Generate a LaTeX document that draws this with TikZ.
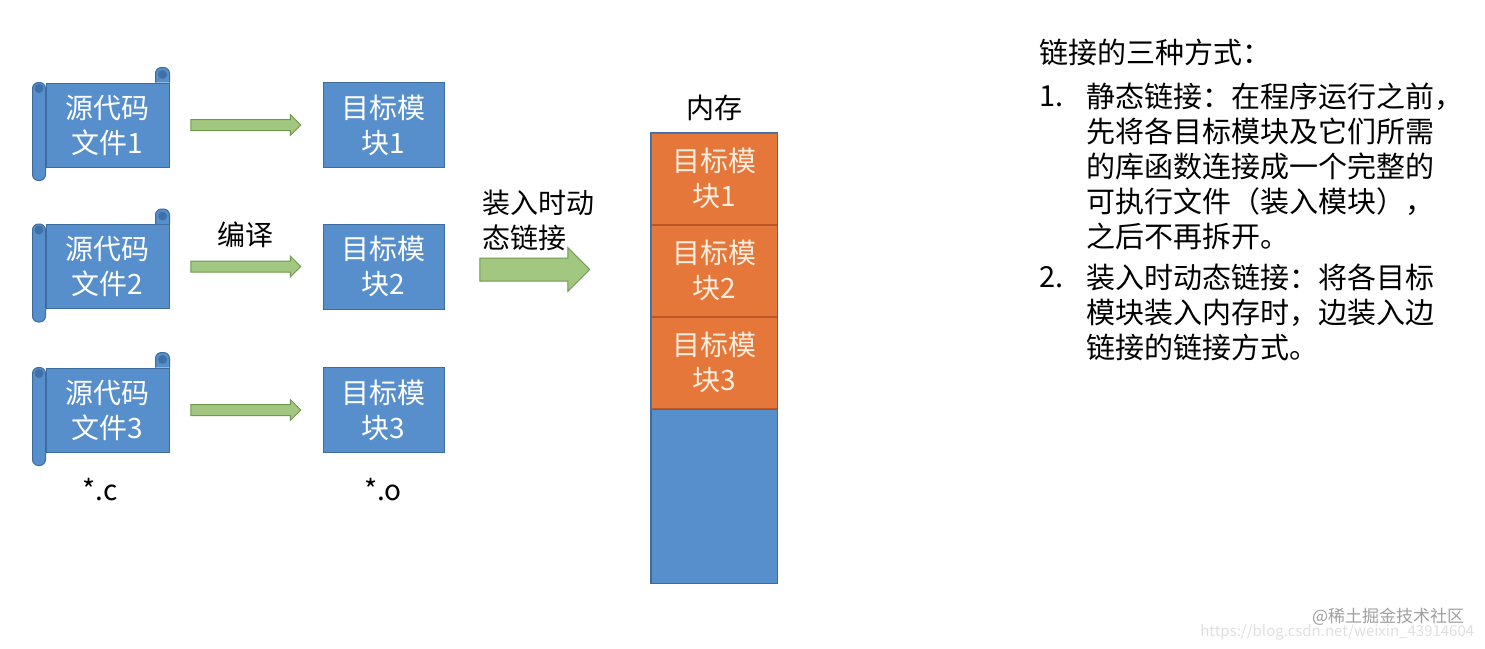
\documentclass[tikz,border=0pt]{standalone}
\usepackage{fontspec}
\setmainfont{Noto Sans CJK SC}
\usetikzlibrary{positioning,shapes.arrows,calc}

\definecolor{blockblue}{RGB}{87,143,204}
\definecolor{edgeblue}{RGB}{62,108,156}
\definecolor{curlblue}{RGB}{64,112,168}
\definecolor{slotorange}{RGB}{229,119,58}
\definecolor{edgeorange}{RGB}{188,86,38}
\definecolor{slottext}{RGB}{252,238,222}
\definecolor{lightgreen}{RGB}{162,199,128}
\definecolor{arrowgreen}{RGB}{112,152,78}

\begin{document}
\begin{tikzpicture}[x=1pt, y=-1pt, line width=1pt,
  font=\fontsize{28}{35}\selectfont,
  srcfile/.style={draw=edgeblue, fill=blockblue, text=white, align=center,
    minimum width=123pt, minimum height=84pt, inner sep=0pt},
  scrollroll/.style={draw=edgeblue, fill=blockblue, rounded corners=6pt},
  module/.style={draw=edgeblue, fill=blockblue, text=white, align=center,
    minimum width=121pt, minimum height=85pt, inner sep=0pt},
  memslot/.style={draw=edgeorange, fill=slotorange, text=slottext, align=center,
    minimum width=126pt, minimum height=91pt, inner sep=0pt},
  smallarrow/.style={single arrow, draw=arrowgreen, fill=lightgreen,
    inner xsep=0pt, inner ysep=5pt, single arrow head extend=5pt, minimum height=110pt},
  bigarrow/.style={single arrow, draw=arrowgreen, fill=lightgreen,
    inner xsep=0pt, inner ysep=11pt, single arrow head extend=10.5pt, minimum height=110pt}]
  \useasboundingbox (0,0) rectangle (1485,648);

  % source files, compile arrows, object modules
  \foreach \i/\y in {1/125, 2/266.5, 3/410}{
    \node[srcfile] (src\i) at (107.5,\y) {源代码\\文件\i};
    \draw[scrollroll] ([xshift=-13pt]src\i.north west) rectangle ([yshift=-13pt]src\i.south west);
    \draw[scrollroll] ([xshift=-14pt]src\i.north east) -- ([xshift=-14pt,yshift=15pt]src\i.north east)
      -- ([yshift=15pt]src\i.north east) -- (src\i.north east);
    \fill[curlblue] ([xshift=-6.5pt,yshift=-6pt]src\i.north west) circle (4.5pt);
    \fill[curlblue] ([xshift=-7pt,yshift=8pt]src\i.north east) circle (4.5pt);
    \node[module] (obj\i) at (383.5,\y) {目标模\\块\i};
    \node[smallarrow, xshift=-3pt] (arr\i) at ($(src\i.east)!0.5!(obj\i.west)$) {};
  }
  \node (compile) at (245,235) {编译};
  \node (extc) at (100,490) {*.c};
  \node (exto) at (383,490) {*.o};

  % load-time dynamic linking
  \node[bigarrow] (load) at (529,269.5) {};
  \node[anchor=west, align=left] (loadlabel) at (479,220) {装入时动\\态链接};

  % memory
  \node[memslot] (mem1) at (714,178.5) {目标模\\块1};
  \node[memslot, below=0pt of mem1] (mem2) {目标模\\块2};
  \node[memslot, below=0pt of mem2] (mem3) {目标模\\块3};
  \node[draw=edgeblue, fill=blockblue, minimum width=126pt, minimum height=174pt,
    inner sep=0pt, below=0pt of mem3] (memfree) {};
  \draw[edgeblue] (mem1.north west) rectangle (memfree.south east);
  \node[above=8pt of mem1] (memlabel) {内存};

  % three ways of linking
  \begin{scope}[font=\fontsize{29}{35}\selectfont]
    \node[anchor=west] (title) at (1036,52) {链接的三种方式：};
    \node[anchor=west] (num1) at (1036,96) {1.};
    \node[anchor=west, align=left] (item1) at (1083,166)
      {静态链接：在程序运行之前，\\先将各目标模块及它们所需\\的库函数连接成一个完整的\\可执行文件（装入模块），\\之后不再拆开。};
    \node[anchor=west] (num2) at (1036,277) {2.};
    \node[anchor=west, align=left] (item2) at (1083,312.5)
      {装入时动态链接：将各目标\\模块装入内存时，边装入边\\链接的链接方式。};
  \end{scope}

  % watermark
  \node[anchor=east, text=gray!25, font=\fontsize{15}{15}\selectfont] (url) at (1478,632)
    {https://blog.csdn.net/weixin\_43914604};
  \node[anchor=east, text=gray!75, font=\fontsize{17}{17}\selectfont] (mark) at (1468,617)
    {@稀土掘金技术社区};
\end{tikzpicture}
\end{document}
